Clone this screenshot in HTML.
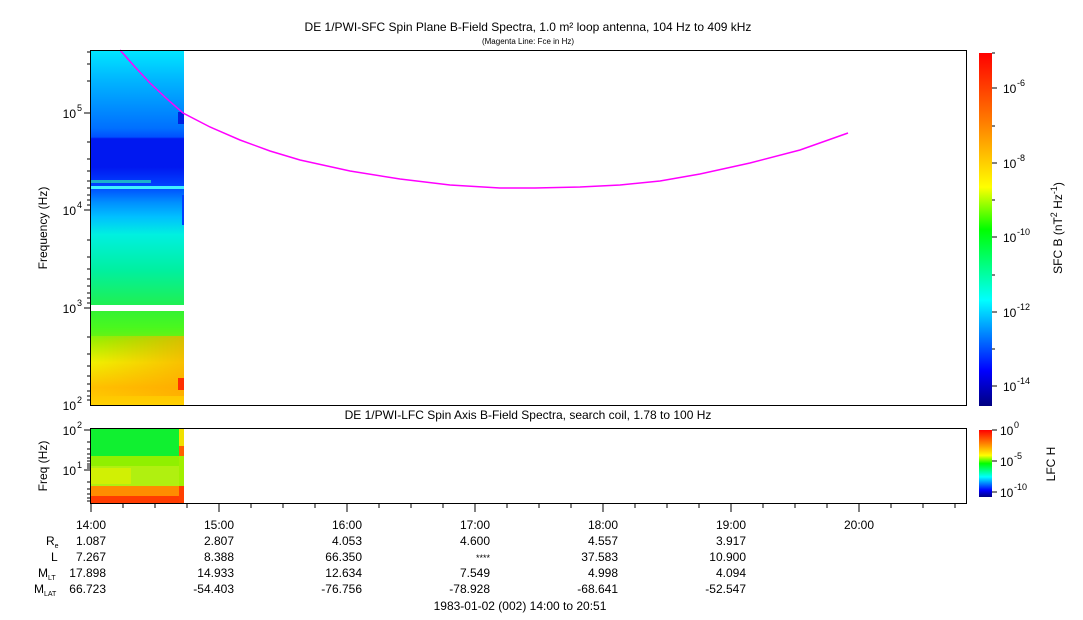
<!DOCTYPE html>
<html><head><meta charset="utf-8"><style>
html,body{margin:0;padding:0;background:#fff}
svg{display:block;font-family:"Liberation Sans",sans-serif}
</style></head><body>
<svg width="1083" height="620" viewBox="0 0 1083 620" xmlns="http://www.w3.org/2000/svg">
<defs>
<linearGradient id="spec" x1="0" y1="50" x2="0" y2="405" gradientUnits="userSpaceOnUse">
<stop offset="0" stop-color="#00e8ff"/>
<stop offset="0.08" stop-color="#00b8ff"/>
<stop offset="0.22" stop-color="#0070ff"/>
<stop offset="0.245" stop-color="#0050ff"/>
<stop offset="0.25" stop-color="#0018f0"/>
<stop offset="0.33" stop-color="#0018f0"/>
<stop offset="0.38" stop-color="#0040ff"/>
<stop offset="0.43" stop-color="#0090ff"/>
<stop offset="0.47" stop-color="#00c0ff"/>
<stop offset="0.52" stop-color="#00f0e0"/>
<stop offset="0.62" stop-color="#00f0a0"/>
<stop offset="0.72" stop-color="#20f050"/>
<stop offset="0.78" stop-color="#50ff20"/>
<stop offset="0.82" stop-color="#a0f000"/>
<stop offset="0.88" stop-color="#f0f000"/>
<stop offset="0.95" stop-color="#ffc000"/>
<stop offset="1" stop-color="#ffd000"/>
</linearGradient>
<linearGradient id="warm" x1="0" y1="0" x2="1" y2="0">
<stop offset="0" stop-color="#ffa000" stop-opacity="0"/>
<stop offset="1" stop-color="#ffa000" stop-opacity="0.6"/>
</linearGradient>
<linearGradient id="cb1" x1="0" y1="1" x2="0" y2="0">
<stop offset="0" stop-color="#000080"/>
<stop offset="0.1" stop-color="#0000ff"/>
<stop offset="0.3" stop-color="#00ffff"/>
<stop offset="0.5" stop-color="#00ff00"/>
<stop offset="0.62" stop-color="#ffff00"/>
<stop offset="0.8" stop-color="#ff8000"/>
<stop offset="1" stop-color="#ff0000"/>
</linearGradient>
</defs>
<text x="528" y="31" font-size="12" text-anchor="middle">DE 1/PWI-SFC  Spin Plane B-Field Spectra, 1.0 m² loop antenna, 104 Hz to 409 kHz</text>
<text x="528" y="44" font-size="8" text-anchor="middle">(Magenta Line: Fce in Hz)</text>
<rect x="91" y="50" width="93" height="355" fill="url(#spec)"/>
<rect x="91" y="305" width="93" height="6" fill="#fff"/>
<rect x="91" y="186" width="93" height="3" fill="#40f0ff"/>
<rect x="91" y="180" width="60" height="3" fill="#20d0c0" opacity="0.8"/>
<rect x="91" y="311" width="93" height="25" fill="#40f020" opacity="0.45"/>
<rect x="91" y="336" width="93" height="60" fill="url(#warm)"/>
<rect x="178" y="378" width="6" height="12" fill="#ff3000"/>
<rect x="178" y="112" width="6" height="12" fill="#0020e0"/>
<rect x="182" y="195" width="2" height="30" fill="#0040ff"/>
<polyline fill="none" stroke="#ff00ff" stroke-width="1.5" points="120,50 135,67 150,83 167,99 183,113 210,127 240,140 270,151 300,160 350,171 400,179 450,185 500,188 535,188 580,187 620,185 660,181 700,174 750,163 800,150 848,133"/>
<rect x="90.5" y="50.5" width="876" height="355" fill="none" stroke="#000"/>
<g stroke="#000">
<line x1="84" y1="113" x2="90" y2="113"/><line x1="84" y1="210" x2="90" y2="210"/><line x1="84" y1="308" x2="90" y2="308"/>
<line x1="87" y1="52" x2="90" y2="52"/><line x1="87" y1="64" x2="90" y2="64"/><line x1="87" y1="81" x2="90" y2="81"/>
<line x1="87" y1="142" x2="90" y2="142"/><line x1="87" y1="159" x2="90" y2="159"/><line x1="87" y1="171" x2="90" y2="171"/><line x1="87" y1="181" x2="90" y2="181"/><line x1="87" y1="188" x2="90" y2="188"/><line x1="87" y1="195" x2="90" y2="195"/><line x1="87" y1="200" x2="90" y2="200"/><line x1="87" y1="205" x2="90" y2="205"/>
<line x1="87" y1="240" x2="90" y2="240"/><line x1="87" y1="257" x2="90" y2="257"/><line x1="87" y1="269" x2="90" y2="269"/><line x1="87" y1="279" x2="90" y2="279"/><line x1="87" y1="286" x2="90" y2="286"/><line x1="87" y1="293" x2="90" y2="293"/><line x1="87" y1="298" x2="90" y2="298"/><line x1="87" y1="303" x2="90" y2="303"/>
<line x1="87" y1="337" x2="90" y2="337"/><line x1="87" y1="354" x2="90" y2="354"/><line x1="87" y1="366" x2="90" y2="366"/><line x1="87" y1="376" x2="90" y2="376"/><line x1="87" y1="384" x2="90" y2="384"/><line x1="87" y1="391" x2="90" y2="391"/><line x1="87" y1="396" x2="90" y2="396"/><line x1="87" y1="400" x2="90" y2="400"/>
</g>
<g font-size="12" text-anchor="end">
<text x="76" y="118">10</text><text x="82" y="111" font-size="9">5</text>
<text x="76" y="215">10</text><text x="82" y="208" font-size="9">4</text>
<text x="76" y="313">10</text><text x="82" y="306" font-size="9">3</text>
<text x="76" y="410">10</text><text x="82" y="403" font-size="9">2</text>
</g>
<text transform="translate(47,228) rotate(-90)" font-size="12" text-anchor="middle">Frequency (Hz)</text>
<rect x="979" y="53" width="13" height="353" fill="url(#cb1)"/>
<g stroke="#000"><line x1="992" y1="88" x2="997" y2="88"/><line x1="992" y1="163" x2="997" y2="163"/><line x1="992" y1="237" x2="997" y2="237"/><line x1="992" y1="312" x2="997" y2="312"/><line x1="992" y1="386" x2="997" y2="386"/>
<line x1="992" y1="126" x2="995" y2="126"/><line x1="992" y1="200" x2="995" y2="200"/><line x1="992" y1="275" x2="995" y2="275"/><line x1="992" y1="349" x2="995" y2="349"/><line x1="992" y1="53" x2="995" y2="53"/></g>
<g font-size="12">
<text x="1003" y="93">10</text><text x="1017" y="86" font-size="9">-6</text>
<text x="1003" y="168">10</text><text x="1017" y="161" font-size="9">-8</text>
<text x="1003" y="242">10</text><text x="1017" y="235" font-size="9">-10</text>
<text x="1003" y="317">10</text><text x="1017" y="310" font-size="9">-12</text>
<text x="1003" y="391">10</text><text x="1017" y="384" font-size="9">-14</text>
</g>
<text transform="translate(1062,228) rotate(-90)" font-size="12" text-anchor="middle">SFC B (nT<tspan font-size="9" dy="-5">2</tspan><tspan dy="5"> Hz</tspan><tspan font-size="9" dy="-5">-1</tspan><tspan dy="5">)</tspan></text>
<text x="528" y="419" font-size="12" text-anchor="middle">DE 1/PWI-LFC  Spin Axis B-Field Spectra, search coil, 1.78 to 100 Hz</text>
<rect x="91" y="429" width="88" height="27" fill="#10f030"/>
<rect x="91" y="456" width="88" height="10" fill="#90f000"/>
<rect x="91" y="466" width="88" height="20" fill="#b0f010"/>
<rect x="91" y="468" width="40" height="16" fill="#e0f000" opacity="0.7"/>
<rect x="91" y="486" width="88" height="10" fill="#ff8c00"/>
<rect x="91" y="496" width="88" height="8" fill="#ff3c00"/>
<rect x="179" y="429" width="5" height="17" fill="#f0e000"/>
<rect x="179" y="446" width="5" height="10" fill="#ff6000"/>
<rect x="179" y="456" width="5" height="30" fill="#a0f000"/>
<rect x="179" y="486" width="5" height="18" fill="#ff4000"/>
<rect x="90.5" y="428.5" width="876" height="75" fill="none" stroke="#000"/>
<g stroke="#000">
<line x1="84" y1="430" x2="90" y2="430"/><line x1="84" y1="470" x2="90" y2="470"/>
<line x1="87" y1="442" x2="90" y2="442"/><line x1="87" y1="449" x2="90" y2="449"/><line x1="87" y1="454" x2="90" y2="454"/><line x1="87" y1="458" x2="90" y2="458"/><line x1="87" y1="461" x2="90" y2="461"/><line x1="87" y1="464" x2="90" y2="464"/><line x1="87" y1="466" x2="90" y2="466"/><line x1="87" y1="468" x2="90" y2="468"/>
<line x1="87" y1="482" x2="90" y2="482"/><line x1="87" y1="489" x2="90" y2="489"/><line x1="87" y1="494" x2="90" y2="494"/><line x1="87" y1="498" x2="90" y2="498"/><line x1="87" y1="501" x2="90" y2="501"/>
</g>
<g font-size="12" text-anchor="end">
<text x="76" y="435">10</text><text x="82" y="428" font-size="9">2</text>
<text x="76" y="475">10</text><text x="82" y="468" font-size="9">1</text>
</g>
<text transform="translate(47,466) rotate(-90)" font-size="12" text-anchor="middle">Freq (Hz)</text>
<rect x="979" y="430" width="13" height="67" fill="url(#cb1)"/>
<g stroke="#000"><line x1="992" y1="430" x2="997" y2="430"/><line x1="992" y1="461" x2="997" y2="461"/><line x1="992" y1="492" x2="997" y2="492"/></g>
<g font-size="12">
<text x="1000" y="435">10</text><text x="1014" y="428" font-size="9">0</text>
<text x="1000" y="466">10</text><text x="1014" y="459" font-size="9">-5</text>
<text x="1000" y="497">10</text><text x="1014" y="490" font-size="9">-10</text>
</g>
<text transform="translate(1055,464) rotate(-90)" font-size="12" text-anchor="middle">LFC H</text>
<g stroke="#000">
<line x1="91" y1="504" x2="91" y2="512"/><line x1="219" y1="504" x2="219" y2="512"/><line x1="347" y1="504" x2="347" y2="512"/><line x1="475" y1="504" x2="475" y2="512"/><line x1="603" y1="504" x2="603" y2="512"/><line x1="731" y1="504" x2="731" y2="512"/><line x1="859" y1="504" x2="859" y2="512"/>
<line x1="123" y1="504" x2="123" y2="508"/><line x1="155" y1="504" x2="155" y2="508"/><line x1="187" y1="504" x2="187" y2="508"/>
<line x1="251" y1="504" x2="251" y2="508"/><line x1="283" y1="504" x2="283" y2="508"/><line x1="315" y1="504" x2="315" y2="508"/>
<line x1="379" y1="504" x2="379" y2="508"/><line x1="411" y1="504" x2="411" y2="508"/><line x1="443" y1="504" x2="443" y2="508"/>
<line x1="507" y1="504" x2="507" y2="508"/><line x1="539" y1="504" x2="539" y2="508"/><line x1="571" y1="504" x2="571" y2="508"/>
<line x1="635" y1="504" x2="635" y2="508"/><line x1="667" y1="504" x2="667" y2="508"/><line x1="699" y1="504" x2="699" y2="508"/>
<line x1="763" y1="504" x2="763" y2="508"/><line x1="795" y1="504" x2="795" y2="508"/><line x1="827" y1="504" x2="827" y2="508"/>
<line x1="891" y1="504" x2="891" y2="508"/><line x1="923" y1="504" x2="923" y2="508"/><line x1="955" y1="504" x2="955" y2="508"/>
</g>
<g font-size="12" text-anchor="end">
<text x="106" y="529">14:00</text><text x="234" y="529">15:00</text><text x="362" y="529">16:00</text><text x="490" y="529">17:00</text><text x="618" y="529">18:00</text><text x="746" y="529">19:00</text><text x="874" y="529">20:00</text>
<text x="106" y="545">1.087</text><text x="234" y="545">2.807</text><text x="362" y="545">4.053</text><text x="490" y="545">4.600</text><text x="618" y="545">4.557</text><text x="746" y="545">3.917</text>
<text x="106" y="561">7.267</text><text x="234" y="561">8.388</text><text x="362" y="561">66.350</text><text x="490" y="561" font-size="9">****</text><text x="618" y="561">37.583</text><text x="746" y="561">10.900</text>
<text x="106" y="577">17.898</text><text x="234" y="577">14.933</text><text x="362" y="577">12.634</text><text x="490" y="577">7.549</text><text x="618" y="577">4.998</text><text x="746" y="577">4.094</text>
<text x="106" y="593">66.723</text><text x="234" y="593">-54.403</text><text x="362" y="593">-76.756</text><text x="490" y="593">-78.928</text><text x="618" y="593">-68.641</text><text x="746" y="593">-52.547</text>
</g>
<g font-size="12">
<text x="46" y="545">R<tspan font-size="7" dy="3">e</tspan></text>
<text x="51" y="561">L</text>
<text x="38" y="577">M<tspan font-size="7" dy="3">LT</tspan></text>
<text x="34" y="593">M<tspan font-size="7" dy="3">LAT</tspan></text>
</g>
<text x="520" y="610" font-size="12" text-anchor="middle">1983-01-02 (002) 14:00 to 20:51</text>
</svg>
</body></html>
